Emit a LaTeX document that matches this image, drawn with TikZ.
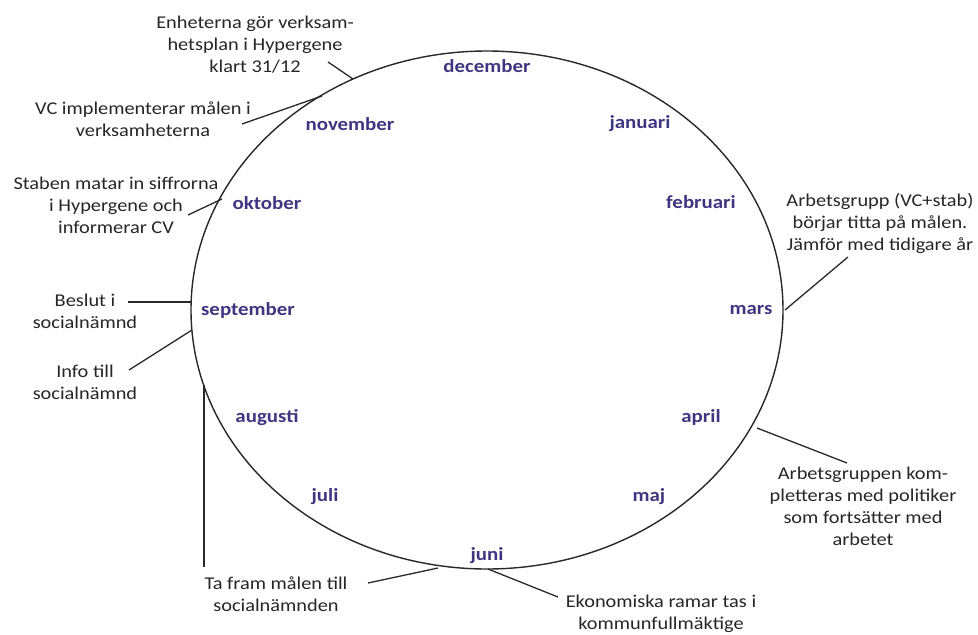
\documentclass[tikz,border=0pt]{standalone}
\usepackage{fontspec}
\setmainfont{Carlito}[FakeStretch=1.13]
\definecolor{monthcol}{RGB}{62,54,128}
\definecolor{linecol}{RGB}{40,40,40}
\begin{document}
\begin{tikzpicture}[x=1pt,y=-1pt,
  note/.style={align=center,font=\fontsize{18}{22}\selectfont,inner sep=0pt,text=black!85},
  month/.style={font=\fontsize{18.5}{22}\selectfont\bfseries,text=monthcol,inner sep=0pt},
  lead/.style={draw=linecol,line width=1.3pt},
  wheel/.style={draw=linecol,line width=1.4pt}]
\useasboundingbox (0,0) rectangle (978,635);
\coordinate (C) at (487,310);
\draw[wheel] (C) ellipse [x radius=296, y radius=259];
% months
\node[month] (dec) at (487,66) {december};
\node[month] (jan) at (640,124) {januari};
\node[month] (feb) at (701,202) {februari};
\node[month] (mar) at (751,310) {mars};
\node[month] (apr) at (701,417) {april};
\node[month] (maj) at (649,497) {maj};
\node[month] (jun) at (487,556) {juni};
\node[month] (jul) at (325,497) {juli};
\node[month] (aug) at (267,418) {augusti};
\node[month] (sep) at (248,310) {september};
\node[month] (okt) at (267,203) {oktober};
\node[month] (nov) at (350,124) {november};
% notes
\node[note] (n1) at (255,45) {Enheterna gör verksam-\\hetsplan i Hypergene\\klart 31/12};
\node[note] (n2) at (143,119) {VC implementerar målen i\\verksamheterna};
\node[note] (n3) at (116,205) {Staben matar in siffrorna\\i Hypergene och\\informerar CV};
\node[note] (n4) at (85,311) {Beslut i\\socialnämnd};
\node[note] (n5) at (85,382) {Info till\\socialnämnd};
\node[note] (n6) at (276,594) {Ta fram målen till\\socialnämnden};
\node[note] (n7) at (661,614) {Ekonomiska ramar tas i\\kommunfullmäktige};
\node[note] (n8) at (880,223) {Arbetsgrupp (VC+stab)\\börjar titta på målen.\\Jämför med tidigare år};
\node[note] (n9) at (863,506) {Arbetsgruppen kom-\\pletteras med politiker\\som fortsätter med\\arbetet};
% leader end points
\coordinate (a1) at (328,62);  \coordinate (b1) at (353,79);
\coordinate (a2) at (242,124); \coordinate (b2) at (322,96);
\coordinate (a3) at (188,215); \coordinate (b3) at (222,199);
\coordinate (a4) at (128,302); \coordinate (b4) at (192,302);
\coordinate (a5) at (129,370); \coordinate (b5) at (192,330);
\coordinate (a6) at (204,567); \coordinate (b6) at (204,385);
\coordinate (a6b) at (368,583); \coordinate (b6b) at (438,568);
\coordinate (a7) at (558,597); \coordinate (b7) at (488,569);
\coordinate (a8) at (848,257); \coordinate (b8) at (785,310);
\coordinate (a9) at (847,463); \coordinate (b9) at (757,428);
\draw[lead] (a1) -- (b1);
\draw[lead] (a2) -- (b2);
\draw[lead] (a3) -- (b3);
\draw[lead] (a4) -- (b4);
\draw[lead] (a5) -- (b5);
\draw[lead] (a6) -- (b6);
\draw[lead] (a6b) -- (b6b);
\draw[lead] (a7) -- (b7);
\draw[lead] (a8) -- (b8);
\draw[lead] (a9) -- (b9);
\end{tikzpicture}
\end{document}
